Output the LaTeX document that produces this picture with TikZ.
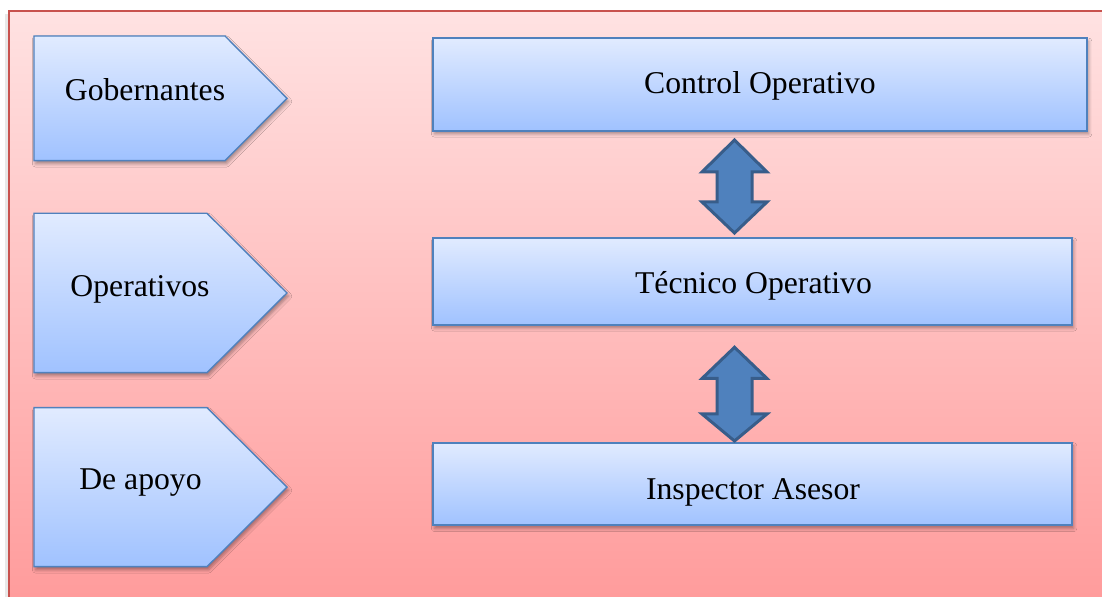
\documentclass[tikz,border=0pt]{standalone}
\usepackage{fontspec}
\setmainfont{Liberation Serif}
\usetikzlibrary{shadows.blur}

\definecolor{frameedge}{RGB}{200,82,78}
\definecolor{bgtop}{RGB}{255,226,226}
\definecolor{bgbot}{RGB}{255,155,155}
\definecolor{boxtop}{RGB}{225,235,255}
\definecolor{boxbot}{RGB}{160,194,255}
\definecolor{boxedge}{RGB}{79,129,189}
\definecolor{arrowfill}{RGB}{79,129,189}
\definecolor{arrowedge}{RGB}{56,93,138}

% vertical two-way arrow: x, top tip, top head base, bottom head base, bottom tip
\newcommand\twowayarrow[5]{%
  \draw[dblarrow] (#1,#2) -- (#1+32.5,#3) -- (#1+17.5,#3) -- (#1+17.5,#4)
    -- (#1+32.5,#4) -- (#1,#5) -- (#1-32.5,#4) -- (#1-17.5,#4)
    -- (#1-17.5,#3) -- (#1-32.5,#3) -- cycle;}

\begin{document}
\begin{tikzpicture}[x=0.5pt,y=-0.5pt,
  softshadow/.style={blur shadow={shadow xshift=0.8pt,shadow yshift=-1.6pt,
      shadow blur radius=1.6pt,shadow opacity=35}},
  levelbox/.style={draw=boxedge,line width=1pt,top color=boxtop,
      bottom color=boxbot,softshadow,inner sep=0pt},
  tagshape/.style={draw=boxedge,line width=0.7pt,top color=boxtop,
      bottom color=boxbot,softshadow,line join=miter},
  txt/.style={font=\fontsize{15.85}{19}\selectfont,anchor=base,inner sep=0pt},
  dblarrow/.style={fill=arrowfill,draw=arrowedge,line width=1.5pt,line join=miter}]

\useasboundingbox (0,0) rectangle (1102,597);
\clip (0,0) rectangle (1102,597);
\fill[white] (0,0) rectangle (1102,597);

% background panel
\fill[black!9] (5,14) rectangle (9,600);
\draw[frameedge,line width=0.6pt,top color=bgtop,bottom color=bgbot]
  (9,11) rectangle (1120,605);

% left-hand tags
\path[tagshape] (34,36) -- (225,36) -- (287,98.3) -- (225,160.7) -- (34,160.7) -- cycle;
\path[tagshape] (34,213.3) -- (207,213.3) -- (287,293) -- (207,372.7) -- (34,372.7) -- cycle;
\path[tagshape] (34,407.7) -- (207,407.7) -- (287,487.2) -- (207,566.7) -- (34,566.7) -- cycle;
\node[txt] (gob) at (145,101) {Gobernantes};
\node[txt] (ope) at (140,296.7) {Operativos};
\node[txt] (apo) at (140.5,490) {De apoyo};

% levels
\node[levelbox,minimum width=327pt,minimum height=46.35pt] (ctrl) at (760,84.4) {};
\node[levelbox,minimum width=319.5pt,minimum height=43.5pt] (tec) at (752.5,281.3) {};
\node[levelbox,minimum width=319.5pt,minimum height=41.3pt] (insp) at (752.5,484) {};
\node[txt] (ctrlT) at (ctrl.center |- 0,93.3) {Control Operativo};
\node[txt] (tecT) at (753.5,293.3) {Técnico Operativo};
\node[txt] (inspT) at (753,499.3) {Inspector Asesor};

% two-way arrows between levels
\twowayarrow{734.5}{140}{172}{202}{233}
\twowayarrow{734.5}{347.3}{378.5}{414}{441}
\end{tikzpicture}
\end{document}
